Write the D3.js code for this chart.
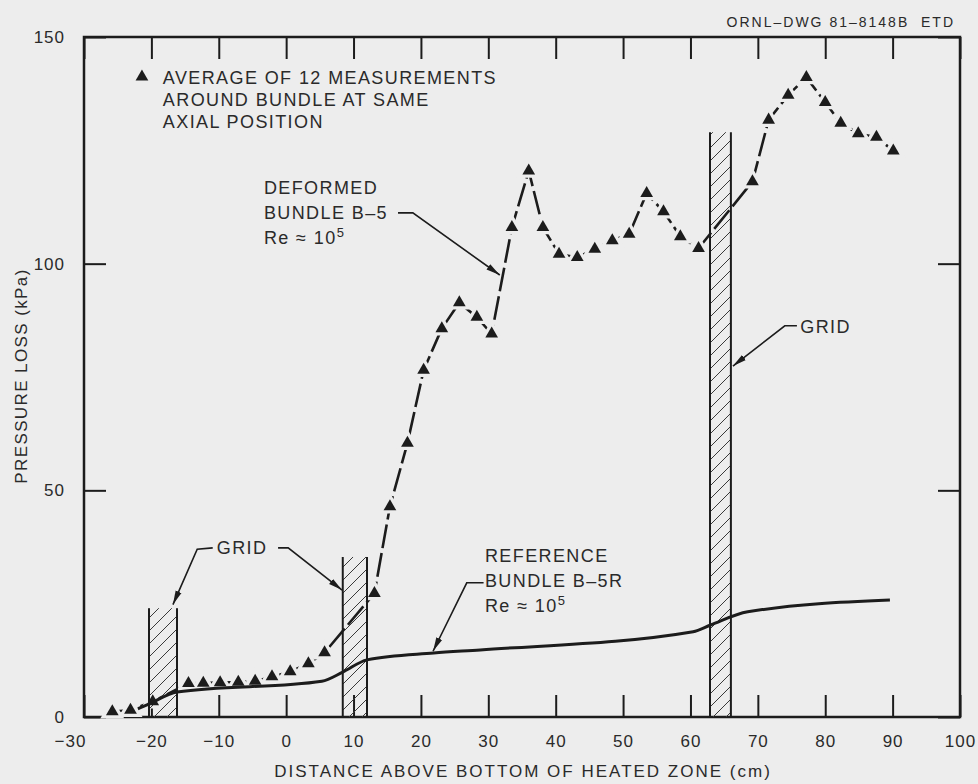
<!DOCTYPE html>
<html>
<head>
<meta charset="utf-8">
<script src="https://cdn.jsdelivr.net/npm/d3@7"></script>
<style>
  body { margin: 0; background: #ededed; }
  svg { display: block; }
  text { font-family: "Liberation Sans", Arial, sans-serif; fill: #2a2a2a; }
</style>
</head>
<body>
<div id="chart"></div>
<script>
// deformed bundle B-5, average of 12 measurements (cm, kPa)
var deformedX = [-25.8, -23.1, -19.8, -14.5, -12.3, -9.8, -7.1, -4.6, -2.1, 0.6, 3.3, 5.7,
  13.1, 15.4, 18.0, 20.4, 23.1, 25.7, 28.3, 30.5, 33.5, 36.0, 38.1, 40.5, 43.2, 45.8,
  48.4, 50.9, 53.5, 56.0, 58.5, 61.2, 69.2, 71.6, 74.5, 77.2, 80.0, 82.3, 84.9, 87.6, 90.1];
var deformedY = [1.2, 1.5, 3.4, 7.4, 7.5, 7.6, 7.7, 7.9, 8.9, 10.0, 11.8, 14.2,
  27.3, 46.4, 60.4, 76.5, 85.7, 91.4, 88.2, 84.5, 108.0, 120.5, 108.0, 102.1, 101.4, 103.2,
  105.1, 106.5, 115.5, 111.5, 106.0, 103.4, 118.1, 131.7, 137.2, 141.1, 135.6, 131.0, 128.7, 127.9, 124.9];

// reference bundle B-5R
var refX = [-22, -20.3, -16.2, 5.3, 8.4, 12, 21.9, 28.8, 60.4, 63, 68.5, 89.6];
var refY = [1.8, 2.9, 5.5, 7.9, 9.9, 12.6, 14.1, 14.8, 18.8, 20.3, 23.2, 25.8];

// spacer grids: left edge, right edge, top (kPa)
var gridLeft = [-20.35, 8.4, 62.9];
var gridRight = [-16.2, 12.0, 66.0];
var gridTop = [24, 35.3, 129];

var xTicks = [-30, -20, -10, 0, 10, 20, 30, 40, 50, 60, 70, 80, 90, 100];
var yTicks = [0, 50, 100, 150];

var width = 978, height = 784;
var bg = "#ededed", ink = "#1c1c1c";

var svg = d3.select("#chart").append("svg")
  .attr("width", width)
  .attr("height", height);

svg.append("rect").attr("width", width).attr("height", height).attr("fill", bg);

var x = d3.scaleLinear().domain([-30, 100]).range([84, 960]);
var y = d3.scaleLinear().domain([0, 150]).range([717, 37]);

var defs = svg.append("defs");
defs.append("pattern")
  .attr("id", "hatch")
  .attr("patternUnits", "userSpaceOnUse")
  .attr("width", 13).attr("height", 13)
  .append("path")
  .attr("d", "M-3,3 L3,-3 M0,13 L13,0 M10,16 L16,10")
  .attr("stroke", "#3a3a3a").attr("stroke-width", 1);

defs.append("marker")
  .attr("id", "arrow")
  .attr("markerUnits", "userSpaceOnUse")
  .attr("markerWidth", 16).attr("markerHeight", 8)
  .attr("refX", 14).attr("refY", 4)
  .attr("orient", "auto")
  .append("path")
  .attr("d", "M0,0.8 L14,4 L0,7.2 Z")
  .attr("fill", ink);

// axes: frame with inward ticks on all four sides
function styleAxis(g) {
  g.select(".domain").remove();
  g.selectAll(".tick line").attr("stroke", ink).attr("stroke-width", 2);
  g.selectAll(".tick text")
    .attr("fill", "#2a2a2a")
    .style("font-size", "17px")
    .style("letter-spacing", "1px");
}

var xBottom = svg.append("g")
  .attr("transform", "translate(0,717)")
  .call(d3.axisBottom(x).tickValues(xTicks).tickSize(-22).tickPadding(18).tickFormat(d3.format("d")))
  .call(styleAxis);
xBottom.selectAll(".tick text").filter(function(d) { return d === -30; }).attr("dx", -14);

svg.append("g")
  .attr("transform", "translate(0,37)")
  .call(d3.axisTop(x).tickValues(xTicks).tickSize(-22).tickFormat(""))
  .call(styleAxis);

svg.append("g")
  .attr("transform", "translate(84,0)")
  .call(d3.axisLeft(y).tickValues(yTicks).tickSize(-22).tickPadding(19))
  .call(styleAxis);

svg.append("g")
  .attr("transform", "translate(960,0)")
  .call(d3.axisRight(y).tickValues(yTicks).tickSize(-22).tickFormat(""))
  .call(styleAxis);

svg.append("rect")
  .attr("x", x(-30)).attr("y", y(150))
  .attr("width", x(100) - x(-30)).attr("height", y(0) - y(150))
  .attr("fill", "none").attr("stroke", ink).attr("stroke-width", 2.5);

// axis titles
svg.append("text")
  .attr("x", 523).attr("y", 777)
  .attr("text-anchor", "middle")
  .style("font-size", "17px").style("letter-spacing", "2px")
  .text("DISTANCE ABOVE BOTTOM OF HEATED ZONE (cm)");

svg.append("text")
  .attr("transform", "translate(27,376) rotate(-90)")
  .attr("text-anchor", "middle")
  .style("font-size", "17px").style("letter-spacing", "1.4px")
  .text("PRESSURE LOSS (kPa)");

svg.append("text")
  .attr("x", 955).attr("y", 27)
  .attr("text-anchor", "end")
  .attr("fill", "#555")
  .style("font-size", "14px").style("letter-spacing", "2px")
  .text("ORNL\u2013DWG 81\u20138148B\u00a0\u00a0ETD");

// deformed bundle line
var deformed = deformedX.map(function(d, i) { return [d, deformedY[i]]; });
var reference = refX.map(function(d, i) { return [d, refY[i]]; });

var line = d3.line()
  .x(function(d) { return x(d[0]); })
  .y(function(d) { return y(d[1]); });

svg.append("path")
  .datum(deformed)
  .attr("d", line)
  .attr("fill", "none")
  .attr("stroke", ink)
  .attr("stroke-width", 2.6)
  .attr("stroke-dasharray", "24,5");

// gaps around the markers
var tri = d3.symbol().type(d3.symbolTriangle);
svg.append("g").selectAll("path")
  .data(deformed).enter()
  .append("path")
  .attr("transform", function(d) { return "translate(" + x(d[0]) + "," + y(d[1]) + ")"; })
  .attr("d", tri.size(80)())
  .attr("fill", bg).attr("stroke", bg).attr("stroke-width", 6);

// grid spacers
var grids = gridLeft.map(function(d, i) { return { l: d, r: gridRight[i], t: gridTop[i] }; });
var gridG = svg.append("g").selectAll("g").data(grids).enter().append("g");
gridG.append("rect")
  .attr("x", function(d) { return x(d.l); })
  .attr("y", function(d) { return y(d.t); })
  .attr("width", function(d) { return x(d.r) - x(d.l); })
  .attr("height", function(d) { return y(0) - y(d.t); })
  .attr("fill", "url(#hatch)");
gridG.selectAll("line")
  .data(function(d) { return [[d.l, d.t], [d.r, d.t]]; })
  .enter().append("line")
  .attr("x1", function(d) { return x(d[0]); })
  .attr("x2", function(d) { return x(d[0]); })
  .attr("y1", function(d) { return y(d[1]); })
  .attr("y2", y(0))
  .attr("stroke", ink).attr("stroke-width", 2);

// reference bundle line
svg.append("path")
  .datum(reference)
  .attr("d", line.curve(d3.curveMonotoneX))
  .attr("fill", "none")
  .attr("stroke", ink)
  .attr("stroke-width", 3);

svg.append("g").selectAll("path")
  .data(deformed).enter()
  .append("path")
  .attr("transform", function(d) { return "translate(" + x(d[0]) + "," + y(d[1]) + ")"; })
  .attr("d", tri.size(70)())
  .attr("fill", ink);

// legend
svg.append("path")
  .attr("transform", "translate(" + x(-21.4) + "," + y(141.2) + ")")
  .attr("d", tri.size(70)())
  .attr("fill", ink);

function block(px, py, lines) {
  var t = svg.append("text")
    .attr("x", x(px)).attr("y", y(py))
    .style("font-size", "18px").style("letter-spacing", "1.4px");
  lines.forEach(function(s, i) {
    var ts = t.append("tspan").attr("x", x(px)).attr("dy", i === 0 ? 0 : (lines.step || 22));
    if (s === "Re") {
      ts.text("Re \u2248 10");
      t.append("tspan").attr("dy", -7).style("font-size", "13px").text("5");
    } else {
      ts.text(s);
    }
  });
  return t;
}

block(-18.3, 139.6, ["AVERAGE OF 12 MEASUREMENTS", "AROUND BUNDLE AT SAME", "AXIAL POSITION"]);

var defLines = ["DEFORMED", "BUNDLE B\u20135", "Re"]; defLines.step = 25;
block(-3.3, 115.4, defLines);

var refLines = ["REFERENCE", "BUNDLE B\u20135R", "Re"]; refLines.step = 25;
block(29.5, 34.2, refLines);

block(-10.3, 36.0, ["GRID"]);
block(76.3, 84.7, ["GRID"]);

// leader arrows
var leaders = [
  [[-10.9, 37.3], [-13.2, 37.0], [-16.8, 24.8]],
  [[-1.2, 37.3], [0.3, 37.3], [8.3, 28.0]],
  [[16.6, 111.2], [18.8, 111.2], [31.7, 97.5]],
  [[29.3, 29.6], [26.8, 29.6], [21.8, 14.5]],
  [[75.8, 86.3], [74.0, 86.3], [66.3, 77.4]]
];
svg.append("g").selectAll("path")
  .data(leaders).enter()
  .append("path")
  .attr("d", d3.line().x(function(d) { return x(d[0]); }).y(function(d) { return y(d[1]); }))
  .attr("fill", "none")
  .attr("stroke", ink)
  .attr("stroke-width", 1.6)
  .attr("marker-end", "url(#arrow)");
</script>
</body>
</html>
